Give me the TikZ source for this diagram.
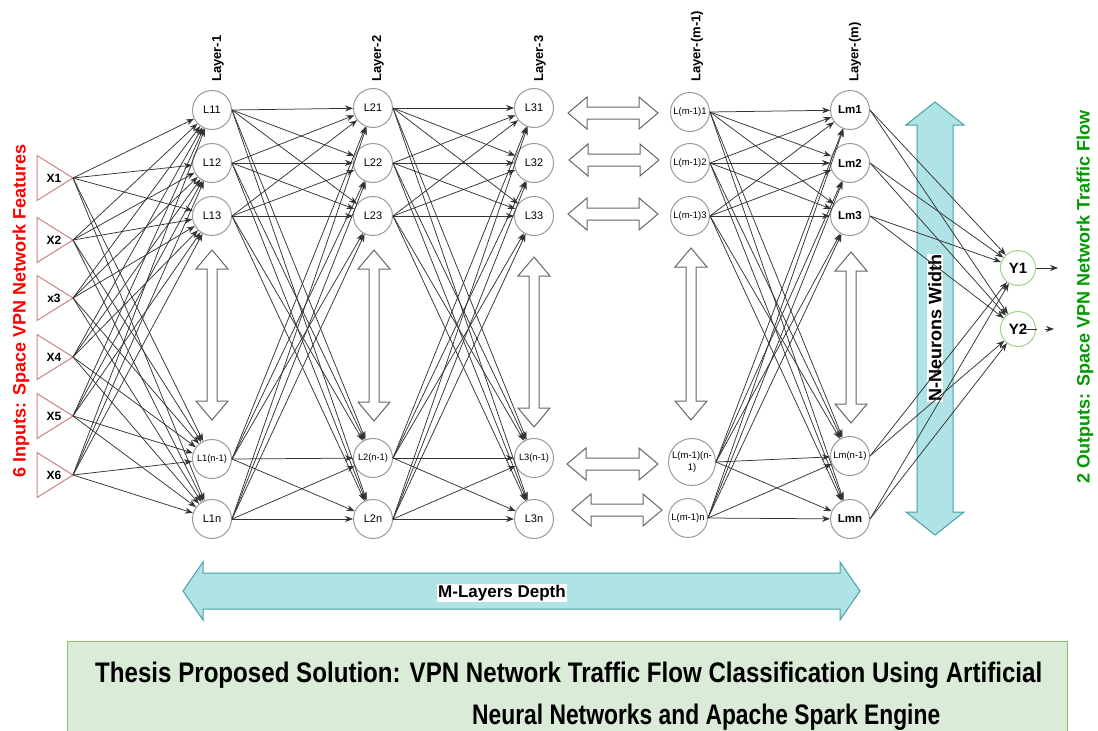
\documentclass[tikz,border=0pt]{standalone}
\usepackage{fontspec}
\setmainfont{Liberation Sans}
\usepackage{graphicx}
\usetikzlibrary{arrows.meta}

\definecolor{neuronline}{RGB}{155,155,155}
\definecolor{inputline}{RGB}{205,130,130}
\definecolor{outputline}{RGB}{160,210,140}
\definecolor{spanfill}{RGB}{176,227,230}
\definecolor{spanline}{RGB}{70,160,165}
\definecolor{boxfill}{RGB}{218,236,215}
\definecolor{boxline}{RGB}{140,190,110}
\definecolor{inred}{RGB}{255,0,0}
\definecolor{outgreen}{RGB}{0,153,0}

\newcommand{\pxfont}[1]{\fontsize{#1}{#1}\selectfont}

% vertical double block arrow: x, y top, y bottom, shaft half width, head half width, head length, style
\newcommand{\VArrow}[7]{%
  \draw[#7] (#1,#2) -- ({#1+#5},{#2+#6}) -- ({#1+#4},{#2+#6}) -- ({#1+#4},{#3-#6})
    -- ({#1+#5},{#3-#6}) -- (#1,#3) -- ({#1-#5},{#3-#6}) -- ({#1-#4},{#3-#6})
    -- ({#1-#4},{#2+#6}) -- ({#1-#5},{#2+#6}) -- cycle;}
% horizontal double block arrow: x left, x right, y, shaft half height, head half height, head length, style
\newcommand{\HArrow}[7]{%
  \draw[#7] (#1,#3) -- ({#1+#6},{#3-#5}) -- ({#1+#6},{#3-#4}) -- ({#2-#6},{#3-#4})
    -- ({#2-#6},{#3-#5}) -- (#2,#3) -- ({#2-#6},{#3+#5}) -- ({#2-#6},{#3+#4})
    -- ({#1+#6},{#3+#4}) -- ({#1+#6},{#3+#5}) -- cycle;}

\tikzset{
  neuron/.style={circle, draw=neuronline, line width=1pt, fill=white, minimum size=39pt,
    inner sep=0pt, font=\pxfont{11}},
  smalllbl/.style={font=\pxfont{9.3}},
  boldlbl/.style={font=\bfseries\pxfont{11.5}},
  outneuron/.style={circle, draw=outputline, line width=1pt, fill=white, minimum size=35pt,
    inner sep=0pt, font=\bfseries\pxfont{15}},
  inputtri/.style={draw=inputline, line width=1pt, fill=white},
  inlbl/.style={font=\bfseries\pxfont{12}, inner sep=0pt},
  conn/.style={-{Stealth[length=8pt,width=6pt]}, draw=black!80, line width=0.75pt},
  whitearrow/.style={draw=black!60, fill=white, line width=1pt},
  spanarrow/.style={draw=spanline, fill=spanfill, line width=1pt},
  layerlbl/.style={rotate=90, anchor=west, font=\bfseries\pxfont{13}, inner sep=0pt},
}

\begin{document}
\begin{tikzpicture}[x=1pt, y=-1pt]
\useasboundingbox (0,0) rectangle (1098,731);
\clip (0,0) rectangle (1098,731);

% ---------- inputs ----------
\foreach \i/\y/\t in {1/178/X1, 2/240/X2, 3/298/x3, 4/357/X4, 5/416/X5, 6/475/X6} {
  \draw[inputtri] (37,\y-22.5) -- (73,\y) -- (37,\y+22.5) -- cycle;
  \node[inlbl] (X\i lbl) at (54,\y) {\t};
  \coordinate (X\i) at (73,\y);
}

% ---------- layer 1 ----------
\node[neuron] (A1) at (212,110) {L11};
\node[neuron] (A2) at (212,163) {L12};
\node[neuron] (A3) at (212,216) {L13};
\node[neuron, smalllbl] (A4) at (212,459) {L1(n-1)};
\node[neuron] (A5) at (212,519) {L1n};

% ---------- layer 2 ----------
\node[neuron] (B1) at (373,108) {L21};
\node[neuron] (B2) at (373,163) {L22};
\node[neuron] (B3) at (373,216) {L23};
\node[neuron, smalllbl] (B4) at (373,458) {L2(n-1)};
\node[neuron] (B5) at (373,519) {L2n};

% ---------- layer 3 ----------
\node[neuron] (C1) at (534,108) {L31};
\node[neuron] (C2) at (534,163) {L32};
\node[neuron] (C3) at (534,216) {L33};
\node[neuron, smalllbl] (C4) at (534,458) {L3(n-1)};
\node[neuron] (C5) at (534,519) {L3n};

% ---------- layer m-1 ----------
\node[neuron, font=\pxfont{9.5}] (D1) at (690,112) {L(m-1)1};
\node[neuron, font=\pxfont{9.5}] (D2) at (690,163) {L(m-1)2};
\node[neuron, font=\pxfont{9.5}] (D3) at (690,216) {L(m-1)3};
\node[neuron, font=\pxfont{9.5}, minimum size=47pt, align=center] (D4) at (692,462) {L(m-1)(n-\\[2pt]1)};
\node[neuron, font=\pxfont{9.5}] (D5) at (688,518) {L(m-1)n};

% ---------- layer m ----------
\node[neuron, boldlbl] (E1) at (850,110) {Lm1};
\node[neuron, boldlbl] (E2) at (850,163) {Lm2};
\node[neuron, boldlbl] (E3) at (850,216) {Lm3};
\node[neuron, font=\pxfont{9.5}] (E4) at (850,456) {Lm(n-1)};
\node[neuron, boldlbl] (E5) at (850,519) {Lmn};

% ---------- outputs ----------
\node[outneuron] (Y1) at (1018,268) {Y1};
\node[outneuron] (Y2) at (1018,329) {Y2};

% ---------- layer labels ----------
\node[layerlbl] (lay1) at (218,82) {Layer-1};
\node[layerlbl] (lay2) at (378,82) {Layer-2};
\node[layerlbl] (lay3) at (540,82) {Layer-3};
\node[layerlbl] (laym1) at (697,82) {Layer-(m-1)};
\node[layerlbl] (laym) at (855,82) {Layer-(m)};

% ---------- side titles ----------
\node[rotate=90, text=inred, font=\bfseries\pxfont{18}] (intitle) at (21,311)
  {6 Inputs: Space VPN Network Features};
\node[rotate=90, text=outgreen, font=\bfseries\pxfont{18}] (outtitle) at (1085,297)
  {2 Outputs: Space VPN Network Traffic Flow};

% ---------- vertical width arrows inside the layers ----------
\VArrow{212}{250}{420}{5}{16}{19}{whitearrow}
\VArrow{374}{250}{421}{5}{16}{19}{whitearrow}
\VArrow{534}{257}{427}{5}{16}{19}{whitearrow}
\VArrow{691}{248}{420}{5}{16}{19}{whitearrow}
\VArrow{851}{252}{423}{5}{16}{19}{whitearrow}

% ---------- horizontal arrows standing for the hidden layers ----------
\HArrow{568}{658}{113}{6}{16}{19}{whitearrow}
\HArrow{569}{659}{160}{6}{16}{19}{whitearrow}
\HArrow{568}{658}{214}{6}{16}{19}{whitearrow}
\HArrow{567}{658}{464}{6}{16}{19}{whitearrow}
\HArrow{572}{662}{510}{6}{16}{19}{whitearrow}

% ---------- connections ----------
\foreach \i in {1,...,6}
  \foreach \j in {1,...,5}
    \draw[conn] (X\i) -- (A\j);
\foreach \i in {1,...,5}
  \foreach \j in {1,...,5} {
    \draw[conn] (A\i.east) -- (B\j);
    \draw[conn] (B\i.east) -- (C\j);
    \draw[conn] (D\i.east) -- (E\j);
  }

% ---------- depth and width spans ----------
\VArrow{935}{102}{535}{18}{29}{23}{spanarrow}
\node[rotate=90, fill=white, inner sep=1pt, font=\bfseries\pxfont{18}] (widthlbl) at (935,328) {N-Neurons Width};

\foreach \i in {1,...,5}
  \foreach \j in {1,2}
    \draw[conn] (E\i.east) -- (Y\j);

\coordinate (Y1out) at (1058,268);
\draw[conn] (Y1) -- (Y1out);
\coordinate (Y2a) at (1021,329);
\coordinate (Y2b) at (1037,329);
\coordinate (Y2c) at (1045,329);
\coordinate (Y2d) at (1054,329);
\draw[draw=black!80, line width=0.75pt] (Y2a) -- (Y2b);
\draw[conn] (Y2c) -- (Y2d);

\HArrow{183}{860}{591}{18}{29}{20}{spanarrow}
\node[fill=white, inner sep=1pt, font=\bfseries\pxfont{17}] (depthlbl) at (502,593) {M-Layers Depth};

% ---------- caption box ----------
\node[draw=boxline, fill=boxfill, line width=1pt, minimum width=1000pt, minimum height=110pt,
  anchor=north west, inner sep=0pt] (capbox) at (67,641) {};
\node[anchor=base west, inner sep=0pt] (cap1) at (95,682)
  {\resizebox{947pt}{20.5pt}{\bfseries\pxfont{24}Thesis Proposed Solution: VPN Network Traffic Flow Classification Using Artificial}};
\node[anchor=base west, inner sep=0pt] (cap2) at (472,724)
  {\resizebox{468pt}{20.5pt}{\bfseries\pxfont{24}Neural Networks and Apache Spark Engine}};
\end{tikzpicture}
\end{document}
